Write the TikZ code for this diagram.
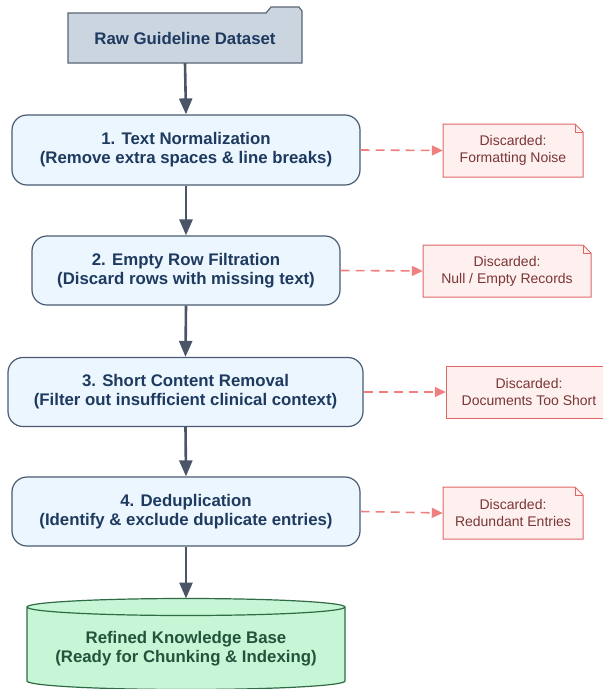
\documentclass[tikz,border=0pt]{standalone}
\usepackage{fontspec}
\setmainfont{Liberation Sans}
\usetikzlibrary{arrows.meta,calc}
\definecolor{flowarrow}{HTML}{4A5568}
\definecolor{boxfill}{HTML}{EBF6FF}
\definecolor{boxline}{HTML}{4A5B70}
\definecolor{boxtext}{HTML}{1E3A5F}
\definecolor{rawfill}{HTML}{CBD5E0}
\definecolor{rawline}{HTML}{5A6575}
\definecolor{notefill}{HTML}{FFF0F0}
\definecolor{noteline}{HTML}{E06666}
\definecolor{notetext}{HTML}{7B3535}
\definecolor{dasharrow}{HTML}{F08080}
\definecolor{dbfill}{HTML}{C6F6D5}
\definecolor{dbline}{HTML}{2F6B45}
\definecolor{dbtext}{HTML}{22543D}
\tikzset{
  stepbox/.style={draw=boxline, fill=boxfill, line width=1.2pt, rounded corners=15pt,
    align=center, font=\fontsize{16.8}{19}\selectfont\bfseries, text=boxtext, inner sep=0pt},
  notebox/.style={align=center, font=\fontsize{14}{17}\selectfont, text=notetext, inner sep=0pt},
  noteshape/.style={draw=noteline, fill=notefill, line width=1pt},
  flow/.style={draw=flowarrow, line width=2.6pt, -{Triangle[length=16pt,width=13pt]}},
  discard/.style={draw=dasharrow, line width=1.6pt, dash pattern=on 9pt off 6pt, -{Triangle[length=11pt,width=10pt]}},
}
\newcommand{\notedraw}[4]{%
  \draw[noteshape] (#1,#2) -- ({#3-8},#2) -- (#3,{#2+8}) -- (#3,#4) -- (#1,#4) -- cycle;
  \draw[draw=noteline, line width=0.8pt] ({#3-8},#2) -- ({#3-8},{#2+8}) -- (#3,{#2+8});}
\begin{document}
\begin{tikzpicture}[x=1pt,y=-1pt]
\useasboundingbox (0,0) rectangle (603,689);
% raw dataset (folder)
\draw[draw=rawline, fill=rawfill, line width=1.2pt]
  (68,63) -- (68,13) -- (266,13) -- (271,7) -- (299,7) -- (302,11) -- (302,63) -- cycle;
\node[font=\fontsize{16.8}{19}\selectfont\bfseries, text=boxtext, minimum width=234pt, minimum height=50pt, inner sep=0pt] (raw) at (185,38) {Raw Guideline Dataset};
% steps
\node[stepbox, minimum width=348pt, minimum height=70pt] (s1) at (186,150)
  {1. Text Normalization\\(Remove extra spaces \& line breaks)};
\node[stepbox, minimum width=308pt, minimum height=69pt] (s2) at (186,270.5)
  {2. Empty Row Filtration\\(Discard rows with missing text)};
\node[stepbox, minimum width=355pt, minimum height=69pt] (s3) at (185.5,392)
  {3. Short Content Removal\\(Filter out insufficient clinical context)};
\node[stepbox, minimum width=348pt, minimum height=69pt] (s4) at (186,511.5)
  {4. Deduplication\\(Identify \& exclude duplicate entries)};
% database cylinder
\draw[draw=dbline, fill=dbfill, line width=1.2pt]
  (27,607) -- (27,681) arc[start angle=180, end angle=360, x radius=159pt, y radius=8.5pt]
  -- (345,607) arc[start angle=0, end angle=180, x radius=159pt, y radius=8.5pt] -- cycle;
\draw[draw=dbline, line width=1.2pt]
  (27,607) arc[start angle=180, end angle=360, x radius=159pt, y radius=8.5pt];
\node[font=\fontsize{16.8}{19}\selectfont\bfseries, text=dbtext, align=center, inner sep=0pt] (db) at (186,649)
  {Refined Knowledge Base\\(Ready for Chunking \& Indexing)};
\coordinate (dbtop) at (186,598.5);
% notes
\notedraw{443}{124}{583}{177}
\node[notebox, minimum width=140pt, minimum height=53pt] (n1) at (513,150.5) {Discarded:\\Formatting Noise};
\notedraw{423}{245}{591}{297}
\node[notebox, minimum width=168pt, minimum height=52pt] (n2) at (507,271) {Discarded:\\Null / Empty Records};
\draw[noteshape] (446,366) rectangle (612,418);
\node[notebox, minimum width=166pt, minimum height=52pt] (n3) at (529,392) {Discarded:\\Documents Too Short};
\notedraw{443}{487}{583}{539}
\node[notebox, minimum width=140pt, minimum height=52pt] (n4) at (513,513) {Discarded:\\Redundant Entries};
% flow arrows
\draw[flow] (raw.south) -- (s1.north);
\draw[flow] (s1.south) -- (s2.north);
\draw[flow] (s2.south) -- (s3.north);
\draw[flow] (s3.south) -- (s4.north);
\draw[flow] (s4.south) -- (dbtop);
% discard arrows
\draw[discard] (s1.east) -- (n1.west);
\draw[discard] (s2.east) -- (n2.west);
\draw[discard] (s3.east) -- (n3.west);
\draw[discard] (s4.east) -- (n4.west);
\end{tikzpicture}
\end{document}
